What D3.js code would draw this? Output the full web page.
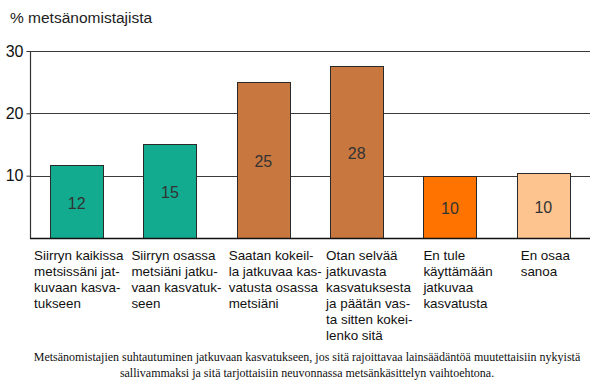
<!DOCTYPE html>
<html>
<head>
<meta charset="utf-8">
<script src="https://cdn.jsdelivr.net/npm/d3@7"></script>
<style>
  html, body { margin: 0; padding: 0; background: #fff; }
  svg { display: block; }
</style>
</head>
<body>
<svg id="chart" width="615" height="391"></svg>
<script>
const categories = [
  ["Siirryn kaikissa", "metsissäni jat-", "kuvaan kasva-", "tukseen"],
  ["Siirryn osassa", "metsiäni jatku-", "vaan kasvatuk-", "seen"],
  ["Saatan kokeil-", "la jatkuvaa kas-", "vatusta osassa", "metsiäni"],
  ["Otan selvää", "jatkuvasta", "kasvatuksesta", "ja päätän vas-", "ta sitten kokei-", "lenko sitä"],
  ["En tule", "käyttämään", "jatkuvaa", "kasvatusta"],
  ["En osaa", "sanoa"]
];
const values = [11.7, 15.1, 25.0, 27.6, 9.9, 10.4];
const barColors = ["#12ab8f", "#12ab8f", "#c8773f", "#c8773f", "#ff7400", "#fdc490"];
const yTicks = [10, 20, 30];
const yTitle = "% metsänomistajista";
const footnote = [
  "Metsänomistajien suhtautuminen jatkuvaan kasvatukseen, jos sitä rajoittavaa lainsäädäntöä muutettaisiin nykyistä",
  "sallivammaksi ja sitä tarjottaisiin neuvonnassa metsänkäsittelyn vaihtoehtona."
];

(function () {
const svg = d3.select("#chart");
const mLeft = 30, mRight = 590, mTop = 51, mBottom = 238;

const x = d3.scaleBand()
  .domain(d3.range(categories.length))
  .range([mLeft, mRight])
  .paddingInner(0.43)
  .paddingOuter(0.215);

const y = d3.scaleLinear().domain([0, 30]).range([mBottom, mTop]);

// gridlines
svg.append("g").selectAll("line")
  .data(yTicks)
  .join("line")
  .attr("x1", mLeft).attr("x2", mRight)
  .attr("y1", d => Math.round(y(d)) + 0.5).attr("y2", d => Math.round(y(d)) + 0.5)
  .attr("stroke", "#3a3a3a").attr("stroke-width", 1.2);

// y axis
const yAxis = d3.axisLeft(y).tickValues(yTicks).tickSize(4).tickPadding(3);
const gy = svg.append("g").attr("transform", `translate(${mLeft + 0.5},0)`).call(yAxis);
gy.select(".domain").attr("stroke", "#333").attr("stroke-width", 1.2).attr("d", `M0,${Math.round(y(30))+0.5}V${mBottom}`);
gy.selectAll(".tick line").attr("stroke", "#333");
gy.selectAll(".tick text")
  .attr("font-family", "Liberation Sans, Arial, sans-serif")
  .attr("font-size", 16).attr("fill", "#111");

// bars
svg.append("g").selectAll("rect")
  .data(values)
  .join("rect")
  .attr("x", (d, i) => Math.round(x(i)) + 0.5)
  .attr("y", d => Math.round(y(d)) + 0.5)
  .attr("width", Math.round(x.bandwidth()))
  .attr("height", d => mBottom - Math.round(y(d)))
  .attr("fill", (d, i) => barColors[i])
  .attr("stroke", "#2a2a2a").attr("stroke-width", 1);

// baseline
svg.append("line")
  .attr("x1", mLeft).attr("x2", mRight)
  .attr("y1", mBottom + 0.5).attr("y2", mBottom + 0.5)
  .attr("stroke", "#111").attr("stroke-width", 1.5);

// value labels
const fmt = d3.format(".0f");
svg.append("g").selectAll("text")
  .data(values)
  .join("text")
  .attr("x", (d, i) => x(i) + x.bandwidth() / 2)
  .attr("y", d => (y(d) + mBottom) / 2 + 7)
  .attr("text-anchor", "middle")
  .attr("font-family", "Liberation Sans, Arial, sans-serif")
  .attr("font-size", 16)
  .attr("fill", "#333")
  .text(d => fmt(d));

// category labels
const cat = svg.append("g").selectAll("text")
  .data(categories)
  .join("text")
  .attr("x", (d, i) => x(i) - 16 + i * 4)
  .attr("y", mBottom + 22)
  .attr("font-family", "Liberation Sans, Arial, sans-serif")
  .attr("font-size", 13.4)
  .attr("fill", "#111");
cat.selectAll("tspan")
  .data(d => d)
  .join("tspan")
  .attr("x", function() { return d3.select(this.parentNode).attr("x"); })
  .attr("dy", (d, j) => j === 0 ? 0 : 16)
  .text(d => d);

// y title
svg.append("text")
  .attr("x", 10).attr("y", 23)
  .attr("font-family", "Liberation Sans, Arial, sans-serif")
  .attr("font-size", 15.5)
  .attr("fill", "#222")
  .text(yTitle);

// footnote
svg.append("g").selectAll("text")
  .data(footnote)
  .join("text")
  .attr("x", 307)
  .attr("y", (d, i) => 361 + i * 16)
  .attr("text-anchor", "middle")
  .attr("font-family", "Liberation Serif, Times New Roman, serif")
  .attr("font-size", 12)
  .attr("fill", "#111")
  .text(d => d);
})();
</script>
</body>
</html>
